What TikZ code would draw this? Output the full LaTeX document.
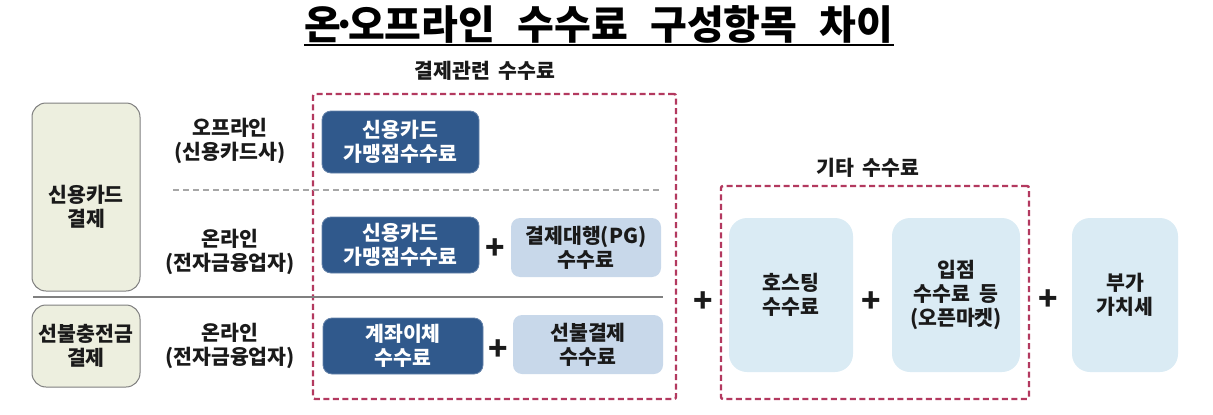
\documentclass[tikz,border=0pt]{standalone}
\usepackage{fontspec}
\setmainfont{Noto Sans CJK KR}
\definecolor{darkblue}{HTML}{30598C}
\definecolor{pgblue}{HTML}{C8D8EA}
\definecolor{paleblue}{HTML}{DAEBF4}
\definecolor{greenfill}{HTML}{EDEFDF}
\definecolor{greenline}{HTML}{7F7F7F}
\definecolor{crimson}{HTML}{B3395F}
\definecolor{txt}{HTML}{1A1A1A}
\newcommand{\bodyfont}{\bfseries\fontsize{20.5}{24}\selectfont}
\newcommand{\wsp}{\hspace{0.42em}}
\newcommand{\tsp}{\hspace{0.56em}}
\begin{document}
\begin{tikzpicture}[x=1pt,y=-1pt,
  lbl/.style={font=\bodyfont, align=center, text=txt, inner sep=0pt},
  darkbox/.style={fill=darkblue, draw=darkblue!75!white, line width=0.8pt, rounded corners=9pt,
    text=white, font=\bodyfont, align=center, inner sep=0pt},
  pgbox/.style={fill=pgblue, draw=none, rounded corners=9pt,
    text=txt, font=\bodyfont, align=center, inner sep=0pt},
  palebox/.style={fill=paleblue, draw=none, rounded corners=18pt,
    text=txt, font=\bodyfont, align=center, inner sep=0pt,
    minimum height=154pt},
  greenbox/.style={fill=greenfill, draw=greenline, line width=1pt, rounded corners=14pt,
    minimum width=108pt, inner sep=0pt},
  plus/.style={font=\bfseries\fontsize{32}{32}\selectfont, text=txt, inner sep=0pt},
  dashbox/.style={draw=crimson, line width=2.4pt, dash pattern=on 6pt off 3.5pt, rounded corners=2pt,
    inner sep=0pt},
]
\useasboundingbox (0,0) rectangle (1213,415);

% title
\node[font=\bfseries\fontsize{40}{40}\selectfont, inner xsep=0pt, anchor=base] (title) at (599,39)
  {온\kern-0.22em·\kern-0.22em오프라인\tsp 수수료\tsp 구성항목\tsp 차이};
\draw[line width=2pt] ([yshift=-5.5pt]title.base west) -- ([yshift=-5.5pt]title.base east);

% headers
\node[lbl] (hdr1) at (485,71) {결제관련\wsp 수수료};
\node[lbl] (hdr2) at (868,168) {기타\wsp 수수료};

% dashed groups
\node[dashbox, minimum width=363pt, minimum height=305pt] (grp1) at (494.5,246.5) {};
\node[dashbox, minimum width=308pt, minimum height=213pt] (grp2) at (875,292.5) {};

% separators
\draw[gray!70, line width=1.2pt, dash pattern=on 6pt off 4pt] (173,190) -- (662,190);
\draw[gray, line width=1.5pt] (33,297) -- (663,297);

% left category boxes
\node[greenbox, minimum height=188pt] (g1) at (86,197) {};
\node[lbl] (g1t) at (86,207) {신용카드\\결제};
\node[greenbox, minimum height=82pt, lbl, fill=greenfill, draw=greenline] (g2) at (86,346) {선불충전금\\결제};

% channel labels
\node[lbl] (c1) at (230,141) {오프라인\\(신용카드사)};
\node[lbl] (c2) at (230,252) {온라인\\(전자금융업자)};
\node[lbl] (c3) at (230,346) {온라인\\(전자금융업자)};

% payment-related fee boxes
\node[darkbox, minimum width=157pt, minimum height=62pt] (a) at (400.5,142) {신용카드\\가맹점수수료};
\node[darkbox, minimum width=157pt, minimum height=56pt] (b) at (400.5,245) {신용카드\\가맹점수수료};
\node[plus] (p1) at (495,249) {+};
\node[pgbox, minimum width=150pt, minimum height=59pt] (pg) at (586,247.5) {결제대행(PG)\\수수료};
\node[darkbox, minimum width=160pt, minimum height=56pt] (c) at (403,346) {계좌이체\\수수료};
\node[plus] (p2) at (498,350) {+};
\node[pgbox, minimum width=150pt, minimum height=59pt] (pp) at (588,344.5) {선불결제\\수수료};

% other fees
\node[plus] (p3) at (703,302) {+};
\node[palebox, minimum width=124pt] (host) at (791,295) {호스팅\\수수료};
\node[plus] (p4) at (871,302) {+};
\node[palebox, minimum width=128pt] (mall) at (956,295) {입점\\수수료\wsp 등\\(오픈마켓)};
\node[plus] (p5) at (1048,300) {+};
\node[palebox, minimum width=106pt] (vat) at (1125,295) {부가\\가치세};
\end{tikzpicture}
\end{document}
